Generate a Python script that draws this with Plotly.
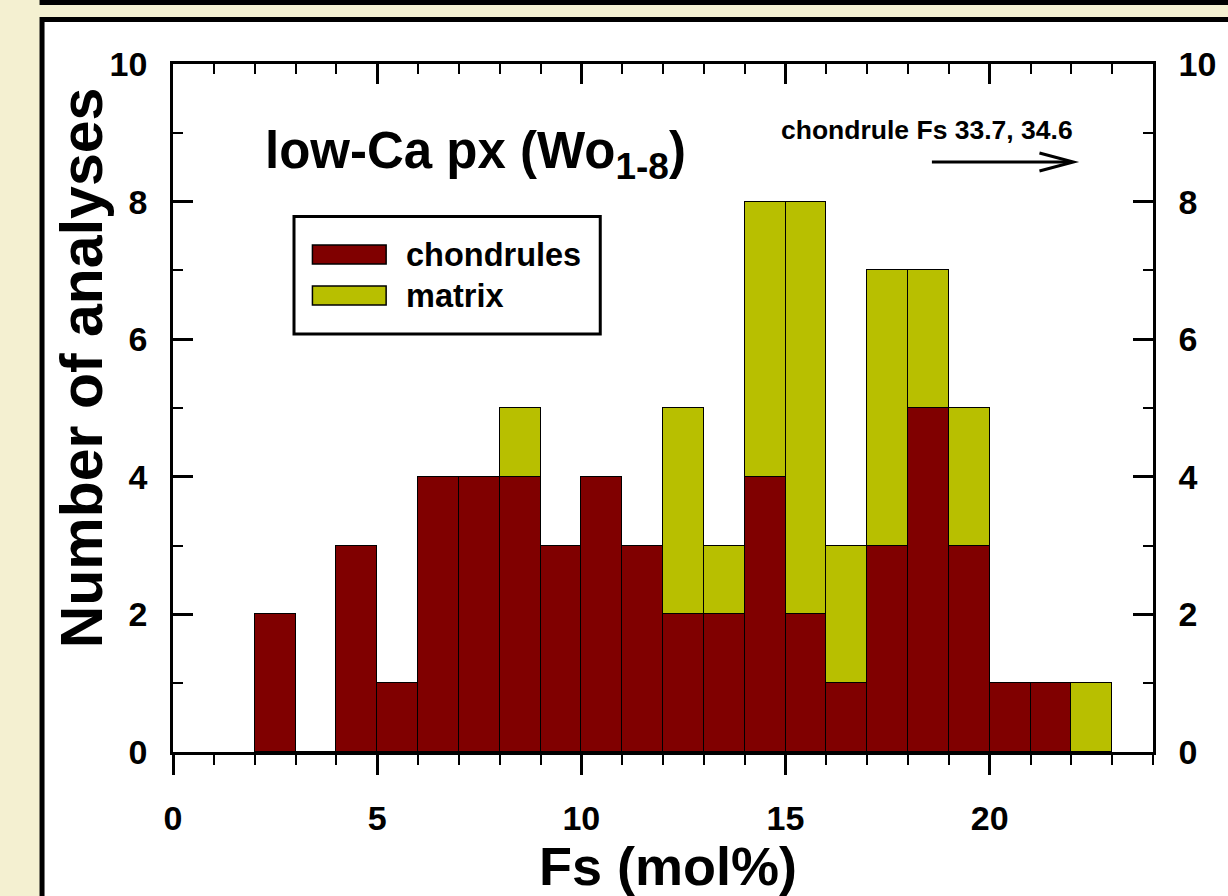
import plotly.graph_objects as go

# ---- data ----
bin_left = [2, 3, 4, 5, 6, 7, 8, 9, 10, 11, 12, 13, 14, 15, 16, 17, 18, 19, 20, 21, 22]
chondrules = [2, 0, 3, 1, 4, 4, 4, 3, 4, 3, 2, 2, 4, 2, 1, 3, 5, 3, 1, 1, 0]
matrix = [0, 0, 0, 0, 0, 0, 1, 0, 0, 0, 3, 1, 4, 6, 2, 4, 2, 2, 0, 0, 1]
bin_width = 1
x_ticks = [0, 5, 10, 15, 20]
y_ticks = [0, 2, 4, 6, 8, 10]

FONT = "Liberation Sans, Arial, sans-serif"
BEIGE = "#f4f0d1"
RED = "#800000"
OLIVE = "#b8bf00"

W_FIG, H_FIG = 1228, 896
L, R, T, B = 173, 71, 64, 144
PW = W_FIG - L - R
PH = H_FIG - T - B


def px(x):
    return (x - L) / PW


def py(y):
    return (H_FIG - B - y) / PH


centers = [b + bin_width / 2 for b in bin_left]

fig = go.Figure()
fig.add_trace(go.Bar(x=centers, y=chondrules, width=bin_width, name="chondrules",
                     marker=dict(color=RED, line=dict(color="black", width=1.5)),
                     showlegend=False))
fig.add_trace(go.Bar(x=centers, y=matrix, width=bin_width, name="matrix",
                     marker=dict(color=OLIVE, line=dict(color="black", width=1.5)),
                     showlegend=False))
# invisible trace on the top/right axes so they render
fig.add_trace(go.Scatter(x=[None], y=[None], xaxis="x2", yaxis="y2", showlegend=False))

tickfont = dict(family=FONT, size=34, color="black", weight="bold")

fig.update_layout(
    width=W_FIG, height=H_FIG,
    margin=dict(l=L, r=R, t=T, b=B),
    paper_bgcolor=BEIGE,
    plot_bgcolor="rgba(0,0,0,0)",
    barmode="stack",
    bargap=0,
    xaxis=dict(range=[0, 24], tickvals=x_ticks, ticks="outside", ticklen=20, tickwidth=2.5,
               tickcolor="black", showline=True, linecolor="black", linewidth=3,
               showgrid=False, zeroline=False, tickfont=tickfont, ticklabelstandoff=14,
               minor=dict(dtick=1, ticks="outside", ticklen=10, tickwidth=2, tickcolor="black")),
    xaxis2=dict(range=[0, 24], overlaying="x", side="top", tickvals=x_ticks, ticks="inside",
                ticklen=20, tickwidth=2.5, tickcolor="black", showline=True, linecolor="black",
                linewidth=2.5, showgrid=False, zeroline=False, showticklabels=False,
                minor=dict(dtick=1, ticks="inside", ticklen=10, tickwidth=2, tickcolor="black")),
    yaxis=dict(range=[0, 10], tickvals=y_ticks, ticks="inside", ticklen=20, tickwidth=2.5,
               tickcolor="black", showline=True, linecolor="black", linewidth=2.5,
               showgrid=False, zeroline=False, tickfont=tickfont, ticklabelstandoff=16,
               minor=dict(dtick=1, ticks="inside", ticklen=10, tickwidth=2, tickcolor="black")),
    yaxis2=dict(range=[0, 10], overlaying="y", side="right", tickvals=y_ticks, ticks="inside",
                ticklen=20, tickwidth=2.5, tickcolor="black", showline=True, linecolor="black",
                linewidth=2.5, showgrid=False, zeroline=False, tickfont=tickfont,
                ticklabelstandoff=16,
                minor=dict(dtick=1, ticks="inside", ticklen=10, tickwidth=2, tickcolor="black")),
    showlegend=False,
)

shapes = []
# top black band
shapes.append(dict(type="rect", xref="paper", yref="paper", layer="below",
                   x0=px(39), x1=px(1240), y0=py(-5), y1=py(5),
                   fillcolor="black", line=dict(width=0)))
# white panel with thick black border
shapes.append(dict(type="rect", xref="paper", yref="paper", layer="below",
                   x0=px(41.5), x1=px(1250), y0=py(19.5), y1=py(920),
                   fillcolor="white", line=dict(color="black", width=5)))
# legend box
shapes.append(dict(type="rect", xref="paper", yref="paper",
                   x0=px(294.5), x1=px(602), y0=py(216.5), y1=py(334),
                   fillcolor="white", line=dict(color="black", width=3)))
# legend swatches
shapes.append(dict(type="rect", xref="paper", yref="paper",
                   x0=px(313), x1=px(387), y0=py(245), y1=py(264),
                   fillcolor=RED, line=dict(color="black", width=1.5)))
shapes.append(dict(type="rect", xref="paper", yref="paper",
                   x0=px(313), x1=px(387), y0=py(286), y1=py(305),
                   fillcolor=OLIVE, line=dict(color="black", width=1.5)))
# arrow
shapes.append(dict(type="line", xref="paper", yref="paper",
                   x0=px(935), x1=px(1075), y0=py(162), y1=py(162),
                   line=dict(color="black", width=3)))
shapes.append(dict(type="path", xref="paper", yref="paper",
                   path=f"M {px(1043)},{py(153)} L {px(1077)},{py(162)} L {px(1043)},{py(171)}",
                   line=dict(color="black", width=3)))
fig.update_layout(shapes=shapes)

annotations = [
    dict(text="low-Ca px (Wo<sub><span style='font-size:37px'>1-8</span></sub>)",
         xref="paper", yref="paper",
         x=px(263), y=py(154), xanchor="left", yanchor="middle", showarrow=False,
         font=dict(family=FONT, size=51, color="black", weight="bold")),
    dict(text="chondrule Fs 33.7, 34.6", xref="paper", yref="paper",
         x=px(781), y=py(130), xanchor="left", yanchor="middle", showarrow=False,
         font=dict(family=FONT, size=26.5, color="black", weight="bold")),
    dict(text="chondrules", xref="paper", yref="paper",
         x=px(405), y=py(255), xanchor="left", yanchor="middle", showarrow=False,
         font=dict(family=FONT, size=32.5, color="black", weight="bold")),
    dict(text="matrix", xref="paper", yref="paper",
         x=px(405), y=py(296), xanchor="left", yanchor="middle", showarrow=False,
         font=dict(family=FONT, size=32.5, color="black", weight="bold")),
    dict(text="Fs (mol%)", xref="paper", yref="paper",
         x=px(670), y=py(866), xanchor="center", yanchor="middle", showarrow=False,
         font=dict(family=FONT, size=54, color="black", weight="bold")),
    dict(text="Number of analyses", xref="paper", yref="paper", textangle=-90,
         x=px(82), y=py(368), xanchor="center", yanchor="middle", showarrow=False,
         font=dict(family=FONT, size=59, color="black", weight="bold")),
]
fig.update_layout(annotations=annotations)

fig.write_html("out.html", config={"displayModeBar": False},
               post_script="document.body.style.margin='0';document.body.style.overflow='hidden';")
